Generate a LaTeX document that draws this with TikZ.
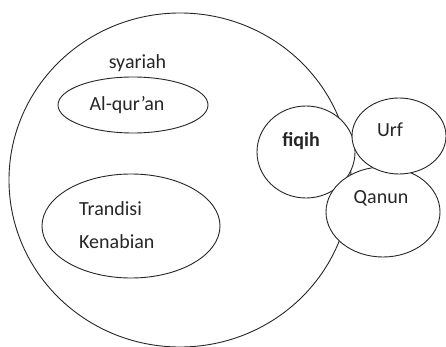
\documentclass[tikz,border=0pt]{standalone}
\usepackage{fontspec}
\setmainfont{Carlito}
\begin{document}
\begin{tikzpicture}[x=1pt,y=-1pt,
  shapeline/.style={draw=black!85,line width=0.9pt,fill=white},
  lbl/.style={font=\fontsize{20}{24}\selectfont,text=black!85,inner sep=0pt}]
\useasboundingbox (0,0) rectangle (446,347);
\draw[shapeline] (180,180) ellipse [x radius=171, y radius=167];
\node[draw=none] (main) at (180,180) {};
\draw[shapeline] (133,105) ellipse [x radius=75, y radius=28];
\draw[shapeline] (131,226) ellipse [x radius=89, y radius=52];
\draw[shapeline] (306,152) ellipse [x radius=49, y radius=46];
\draw[shapeline] (383,212) ellipse [x radius=57, y radius=45];
\draw[shapeline] (399,136) ellipse [x radius=47, y radius=38];
\node[lbl,anchor=base] (syariah) at (137.5,69) {syariah};
\node[lbl,anchor=base] (alquran) at (127,111) {Al-qur’an};
\node[lbl,anchor=base,font=\fontsize{20}{24}\selectfont\bfseries] (fiqih) at (301,147) {fiqih};
\node[lbl,anchor=base] (urf) at (390,137) {Urf};
\node[lbl,anchor=base] (qanun) at (381,204) {Qanun};
\node[lbl,anchor=base west] (trandisi) at (79,215) {Trandisi};
\node[lbl,anchor=base west] (kenabian) at (79,248) {Kenabian};
\end{tikzpicture}
\end{document}
